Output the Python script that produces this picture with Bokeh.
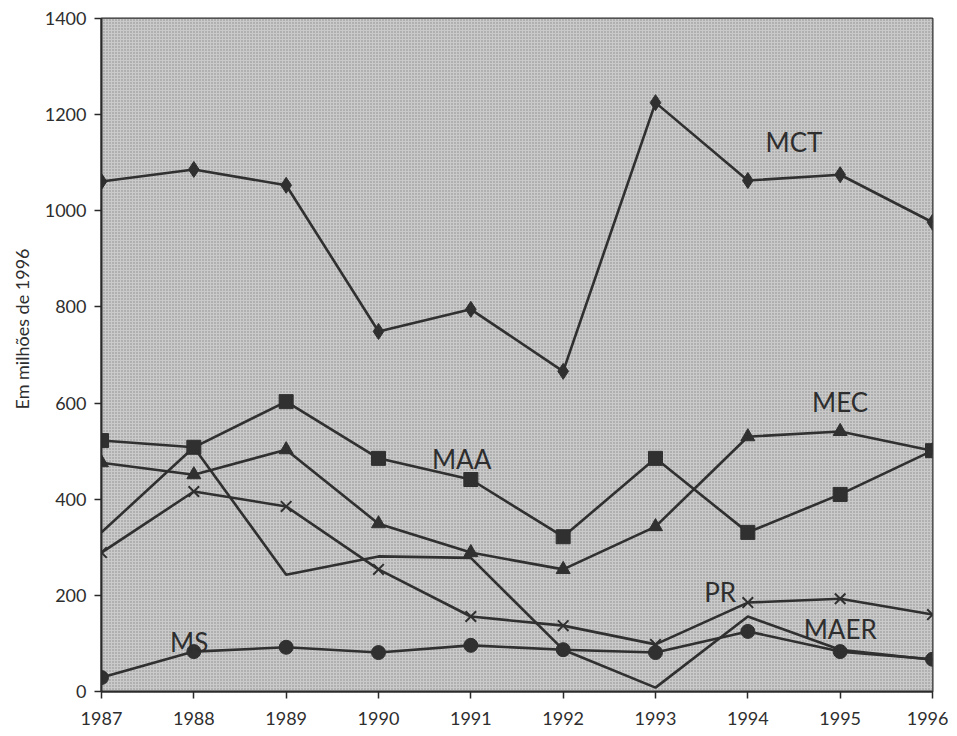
from bokeh.plotting import figure
from bokeh.models import BoxAnnotation, Label, FixedTicker, Title
from bokeh.embed import file_html
from bokeh.resources import INLINE

years = [1987, 1988, 1989, 1990, 1991, 1992, 1993, 1994, 1995, 1996]
mct = [1061, 1086, 1053, 749, 795, 666, 1225, 1063, 1075, 976]
maa = [522, 508, 603, 485, 441, 322, 485, 331, 410, 501]
mec = [476, 451, 503, 349, 289, 254, 343, 530, 541, 501]
maer = [331, 508, 243, 281, 278, 87, 8, 156, 87, 66]
pr = [289, 416, 385, 254, 156, 137, 98, 185, 193, 160]
ms = [29, 83, 92, 81, 96, 87, 81, 125, 83, 67]

y_ticks = [0, 200, 400, 600, 800, 1000, 1200, 1400]

series_labels = ["MCT", "MEC", "MAA", "PR", "MAER", "MS"]
label_x = [1994.5, 1995.0, 1990.9, 1993.7, 1995.0, 1987.95]
label_y = [1144, 603, 483, 206, 129, 102]

y_title = "Em milhões de 1996"

FONT = "Lato"
LC = "#303030"

p = figure(width=948, height=728, output_backend="svg", toolbar_location=None,
           x_range=(1987, 1996), y_range=(0, 1400),
           min_border_left=99, min_border_right=16, min_border_top=18, min_border_bottom=37)

p.background_fill_color = "#c6c6c6"
p.border_fill_color = "white"
p.outline_line_color = "#2a2a2a"
p.outline_line_width = 2
p.grid.visible = False

bg = BoxAnnotation(left=1987, right=1996, bottom=0, top=1400, level="underlay",
                   fill_color="#cacaca", fill_alpha=1.0,
                   hatch_pattern="dot", hatch_color="#6e6e6e", hatch_scale=3, hatch_alpha=0.7,
                   line_color=None)
p.add_layout(bg)

for vals in [mct, maa, mec, pr, ms, maer]:
    p.line(years, vals, line_color=LC, line_width=2.6)

p.scatter(years, mct, marker="diamond", size=16, fill_color=LC, line_color=LC)
p.scatter(years, maa, marker="square", size=14, fill_color=LC, line_color=LC)
p.scatter(years, mec, marker="triangle", size=14, fill_color=LC, line_color=LC)
p.scatter(years, pr, marker="x", size=15, line_color=LC, line_width=2)
p.scatter(years, ms, marker="circle", size=14, fill_color=LC, line_color=LC)

for t, x, y in zip(series_labels, label_x, label_y):
    p.add_layout(Label(x=x, y=y, text=t, text_font=FONT, text_font_size="26px",
                       text_color="#2e2e2e", text_align="center", text_baseline="middle"))

p.add_layout(Title(text=y_title, align="left", offset=282, standoff=17,
                   text_font=FONT, text_font_size="18px", text_font_style="normal",
                   text_color="#2e2e2e"), "left")

p.xaxis.ticker = FixedTicker(ticks=years)
p.yaxis.ticker = FixedTicker(ticks=y_ticks)
p.xaxis.minor_tick_line_color = None
p.yaxis.minor_tick_line_color = None
for ax in (p.xaxis, p.yaxis):
    ax.axis_line_color = "#2a2a2a"
    ax.axis_line_width = 2
    ax.major_tick_line_color = "#2a2a2a"
    ax.major_tick_line_width = 1.5
    ax.major_tick_out = 7
    ax.major_tick_in = 0
    ax.major_label_text_font = FONT
    ax.major_label_text_font_size = "18px"
    ax.major_label_text_color = "#2e2e2e"
p.xaxis.major_label_standoff = 13
p.yaxis.major_label_standoff = 8

open("out.html", "w").write(file_html(p, INLINE))
